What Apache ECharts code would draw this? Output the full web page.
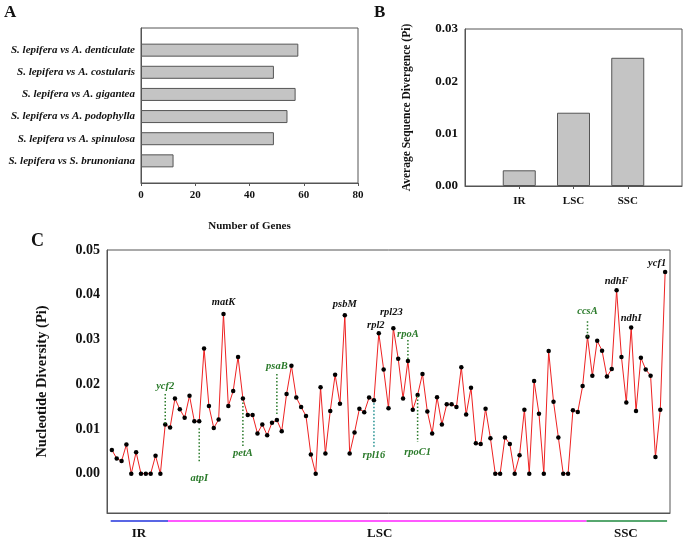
<!DOCTYPE html>
<html><head><meta charset="utf-8">
<script src="https://cdn.jsdelivr.net/npm/echarts@6/dist/echarts.min.js"></script>
<style>html,body{margin:0;padding:0;background:#fff}#c{width:685px;height:541px}</style>
</head><body><div id="c"></div>
<script>
// ---- Panel A data ----
const pairNames = [
  'S. lepifera vs A. denticulate',
  'S. lepifera vs A. costularis',
  'S. lepifera vs A. gigantea',
  'S. lepifera vs A. podophylla',
  'S. lepifera vs A. spinulosa',
  'S. lepifera vs S. brunoniana'
];
const geneCounts = [58, 49, 57, 54, 49, 12];

// ---- Panel B data ----
const regionNames = ['IR', 'LSC', 'SSC'];
const regionPi = [0.0030, 0.0140, 0.0245];

// ---- Panel C data (nucleotide diversity per window, in order) ----
const piValues = [
  0.0053, 0.0034, 0.0028, 0.0065, 0.0000, 0.0048, 0.0000, 0.0000, 0.0000, 0.0040,
  0.0000, 0.0110, 0.0103, 0.0168, 0.0144, 0.0125, 0.0174, 0.0117, 0.0117, 0.0280,
  0.0151, 0.0102, 0.0121, 0.0357, 0.0151, 0.0185, 0.0261, 0.0168, 0.0131, 0.0131,
  0.0090, 0.0110, 0.0086, 0.0114, 0.0120, 0.0095, 0.0178, 0.0241, 0.0170, 0.0149,
  0.0129, 0.0043, 0.0000, 0.0193, 0.0045, 0.0140, 0.0221, 0.0156, 0.0354, 0.0045,
  0.0092, 0.0145, 0.0137, 0.0170, 0.0164, 0.0314, 0.0233, 0.0146, 0.0325, 0.0257,
  0.0168, 0.0252, 0.0143, 0.0176, 0.0223, 0.0139, 0.0090, 0.0171, 0.0110, 0.0155,
  0.0155, 0.0149, 0.0238, 0.0132, 0.0192, 0.0068, 0.0066, 0.0145, 0.0079, 0.0000,
  0.0000, 0.0081, 0.0066, 0.0000, 0.0041, 0.0143, 0.0000, 0.0207, 0.0134, 0.0000,
  0.0274, 0.0161, 0.0081, 0.0000, 0.0000, 0.0142, 0.0138, 0.0196, 0.0306, 0.0219,
  0.0297, 0.0275, 0.0217, 0.0234, 0.0410, 0.0261, 0.0159, 0.0327, 0.0140, 0.0259,
  0.0233, 0.0219, 0.0037, 0.0143, 0.0451
];
const yTickValues = [0, 0.01, 0.02, 0.03, 0.04, 0.05];

// annotated genes: window number (1-based) and name
const annGenes = ['ycf2','atpI','matK','petA','psaB','psbM','rpl16','rpl2','rpl23','rpoA','rpoC1','ccsA','ndhF','ndhI','ycf1'];
const annIndex = [12, 19, 24, 28, 35, 49, 55, 56, 59, 62, 64, 99, 105, 108, 115];

// genome regions spanned by windows
const regionSpanNames = ['IR', 'LSC', 'SSC'];
const regionSpanStart = [0.76, 12.57, 98.8];
const regionSpanEnd = [12.57, 98.8, 115.4];
const regionLabelAt = [6.6, 56.2, 106.9];

// ---- styles ----
const FONT = '"Liberation Serif", "Times New Roman", serif';
const GREEN = '#2a7a2a';
const annStyle = {
  ycf2:  {c: GREEN, line: [-1, -32], t: -38, dx: 0},
  atpI:  {c: GREEN, line: [7, 40], t: 57, dx: 0},
  matK:  {c: '#111', t: -12, dx: 0},
  petA:  {c: GREEN, line: [4, 48], t: 55, dx: 0},
  psaB:  {c: GREEN, line: [-6, -48], t: -54, dx: 0},
  psbM:  {c: '#111', t: -11, dx: 0},
  rpl16: {c: GREEN, lc: '#1f8f8f', line: [3, 47], t: 55, dx: 0},
  rpl2:  {c: '#111', t: -8, dx: -3},
  rpl23: {c: '#111', t: -16, dx: -2},
  rpoA:  {c: GREEN, line: [-2, -21], t: -27, dx: 0},
  rpoC1: {c: GREEN, line: [1, 47], t: 57, dx: 0},
  ccsA:  {c: GREEN, line: [0, -17], t: -25, dx: 0},
  ndhF:  {c: '#111', t: -9, dx: 0},
  ndhI:  {c: '#111', t: -9, dx: 0},
  ycf1:  {c: '#111', t: -9, dx: -8}
};
const regionColors = ['#2233dd', '#ff22ff', '#1f8a3f'];

const chart = echarts.init(document.getElementById('c'), null, {renderer: 'canvas'});

const padA = [''].concat(pairNames, ['']);
const padAvals = [null].concat(geneCounts, [null]);
const padB = [''].concat(regionNames, ['']);
const padBvals = [null].concat(regionPi, [null]);

const boxColor = '#555';
const lblBase = {fontFamily: FONT, fontWeight: 'bold', color: '#111'};

const option = {
  animation: false,
  backgroundColor: '#fff',
  grid: [
    {left: 141, top: 28, width: 217, height: 155, show: true, borderColor: boxColor, borderWidth: 1},
    {left: 465, top: 29, width: 218, height: 157, show: true, borderColor: boxColor, borderWidth: 1},
    {left: 107, top: 250, width: 563, height: 263, show: true, borderColor: boxColor, borderWidth: 1}
  ],
  xAxis: [
    {gridIndex: 0, type: 'value', min: 0, max: 80, interval: 20,
     axisLine: {show: true, onZero: false, lineStyle: {color: boxColor}},
     axisTick: {show: true, length: 3, lineStyle: {color: boxColor}},
     splitLine: {show: false},
     axisLabel: Object.assign({fontSize: 11, margin: 7}, lblBase),
     name: 'Number of Genes', nameLocation: 'middle', nameGap: 38,
     nameTextStyle: Object.assign({fontSize: 11}, lblBase)},
    {gridIndex: 1, type: 'category', data: padB, boundaryGap: false,
     axisLine: {show: true, onZero: false, lineStyle: {color: boxColor}},
     axisTick: {show: true, length: 3, interval: (i, v) => v !== '', lineStyle: {color: boxColor}},
     axisLabel: Object.assign({fontSize: 11, margin: 10, interval: 0}, lblBase)},
    {gridIndex: 2, type: 'value', min: 0, max: 116,
     axisLine: {show: true, onZero: false, lineStyle: {color: boxColor}},
     axisTick: {show: false}, axisLabel: {show: false}, splitLine: {show: false}}
  ],
  yAxis: [
    {gridIndex: 0, type: 'category', data: padA, inverse: true, boundaryGap: false,
     axisLine: {show: true, onZero: false, lineStyle: {color: boxColor}},
     axisTick: {show: false},
     axisLabel: Object.assign({fontSize: 11, margin: 6, fontStyle: 'italic', interval: 0}, lblBase)},
    {gridIndex: 1, type: 'value', min: 0, max: 0.03, interval: 0.01,
     axisLine: {show: true, onZero: false, lineStyle: {color: boxColor}},
     axisTick: {show: false}, splitLine: {show: false},
     axisLabel: Object.assign({fontSize: 13, margin: 7, formatter: v => v.toFixed(2)}, lblBase),
     name: 'Average Sequence Divergence (Pi)', nameLocation: 'middle', nameGap: 52, nameRotate: 90,
     nameTextStyle: Object.assign({fontSize: 11.5}, lblBase)},
    {gridIndex: 2, type: 'value', min: -0.0088, max: 0.05,
     axisLine: {show: true, onZero: false, lineStyle: {color: boxColor}},
     axisTick: {show: false}, splitLine: {show: false},
     axisLabel: Object.assign({fontSize: 14, margin: 7, customValues: yTickValues, formatter: v => v.toFixed(2)}, lblBase),
     name: 'Nucleotide Diversity (Pi)', nameLocation: 'middle', nameGap: 57, nameRotate: 90,
     nameTextStyle: Object.assign({fontSize: 14.5}, lblBase)}
  ],
  graphic: [
    {type: 'text', left: 4, top: 4, style: {text: 'A', font: 'bold 17px ' + FONT, fill: '#111'}},
    {type: 'text', left: 374, top: 4, style: {text: 'B', font: 'bold 17px ' + FONT, fill: '#111'}},
    {type: 'text', left: 31, top: 232, style: {text: 'C', font: 'bold 18px ' + FONT, fill: '#111'}}
  ],
  series: [
    {type: 'bar', xAxisIndex: 0, yAxisIndex: 0, data: padAvals, barWidth: 13,
     itemStyle: {color: '#c4c4c4', borderColor: '#555', borderWidth: 1}},
    {type: 'bar', xAxisIndex: 1, yAxisIndex: 1, data: padBvals, barWidth: 33,
     itemStyle: {color: '#c4c4c4', borderColor: '#555', borderWidth: 1}},
    {type: 'line', xAxisIndex: 2, yAxisIndex: 2,
     data: piValues.map((v, i) => [i + 1, v]),
     symbol: 'circle', symbolSize: 4.5, showSymbol: true,
     itemStyle: {color: '#000'}, lineStyle: {color: '#ee2222', width: 1}, z: 3},
    {type: 'custom', xAxisIndex: 2, yAxisIndex: 2, clip: false, z: 4,
     data: annIndex.map((idx, k) => [idx, piValues[idx - 1], k]),
     renderItem: function (params, api) {
       const k = api.value(2);
       const name = annGenes[k];
       const s = annStyle[name];
       const p = api.coord([api.value(0), api.value(1)]);
       const children = [];
       if (s.line) {
         children.push({type: 'line', shape: {x1: p[0], y1: p[1] + s.line[0], x2: p[0], y2: p[1] + s.line[1]},
           style: {stroke: s.lc || s.c, lineWidth: 1.5, lineDash: [1.5, 2]}});
       }
       children.push({type: 'text', x: p[0] + s.dx, y: p[1] + s.t,
         style: {text: name, font: 'italic bold 10.5px ' + FONT, fill: s.c, align: 'center', verticalAlign: 'middle'}});
       return {type: 'group', children: children};
     }},
    {type: 'custom', xAxisIndex: 2, yAxisIndex: 2, clip: false, z: 4,
     data: regionSpanNames.map((n, k) => [regionSpanStart[k], regionSpanEnd[k], regionLabelAt[k], k]),
     renderItem: function (params, api) {
       const k = api.value(3);
       const cs = params.coordSys;
       const yb = cs.y + cs.height + 8;
       const x0 = api.coord([api.value(0), 0])[0];
       const x1 = api.coord([api.value(1), 0])[0];
       const xl = api.coord([api.value(2), 0])[0];
       return {type: 'group', children: [
         {type: 'line', shape: {x1: x0, y1: yb, x2: x1, y2: yb}, style: {stroke: regionColors[k], lineWidth: 1.5}},
         {type: 'text', x: xl, y: yb + 13, style: {text: regionSpanNames[k], font: 'bold 13px ' + FONT, fill: '#111', align: 'center', verticalAlign: 'middle'}}
       ]};
     }}
  ]
};
chart.setOption(option);
</script>
</body></html>
